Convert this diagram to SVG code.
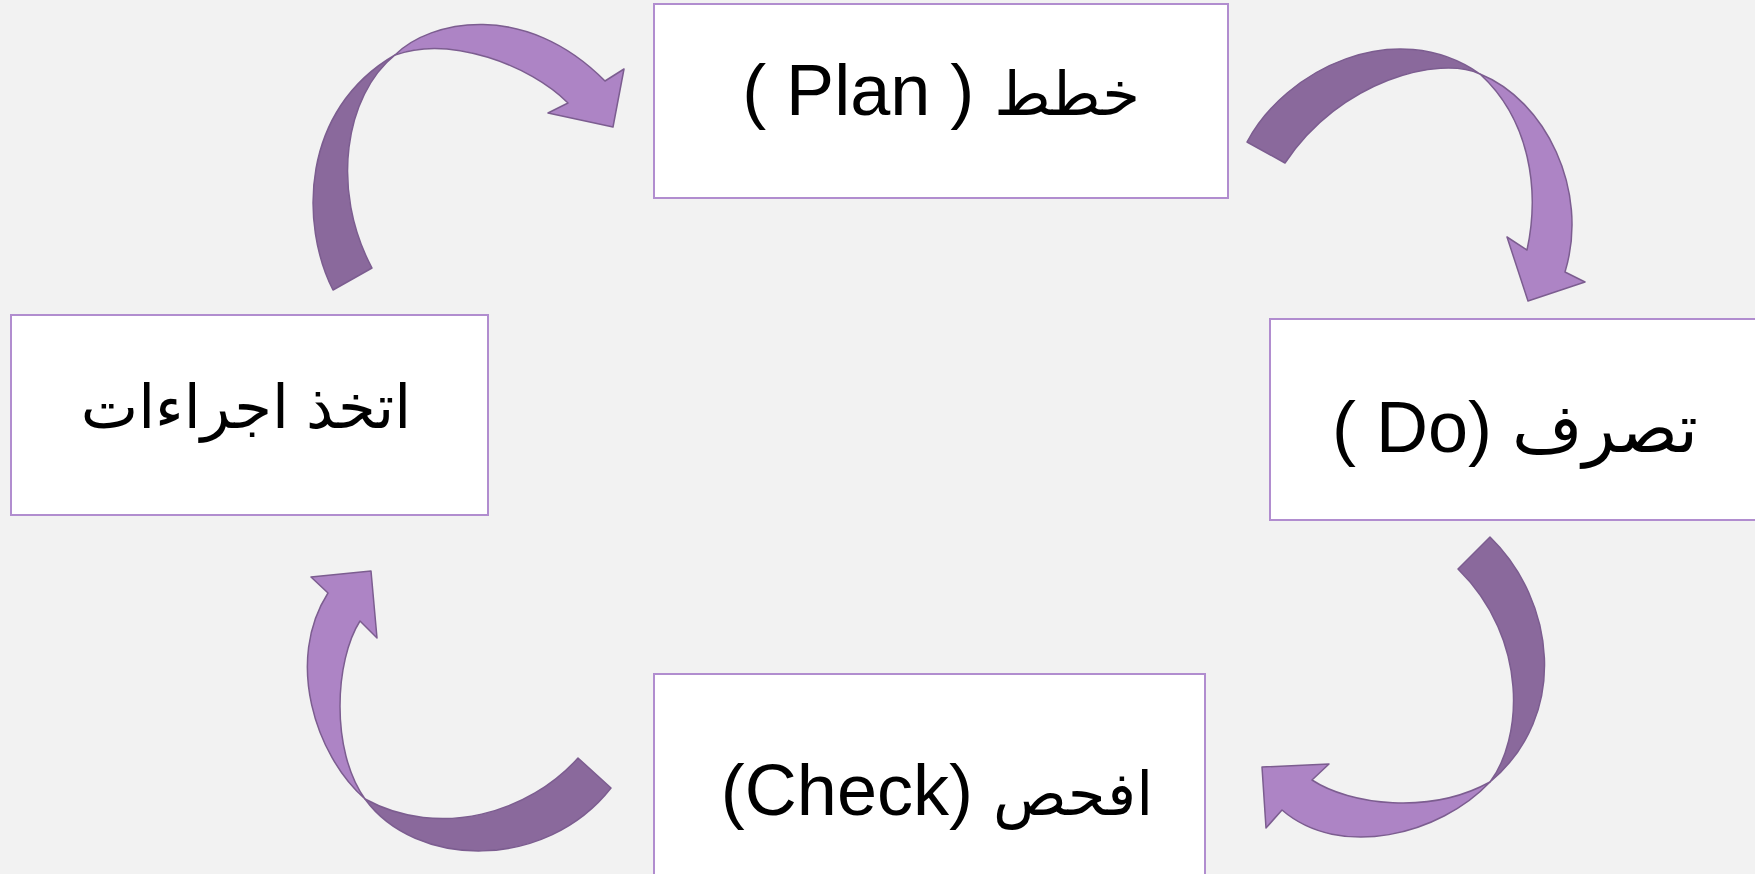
<svg xmlns="http://www.w3.org/2000/svg" width="1755" height="874" viewBox="0 0 1755 874">
<style>
.bg{fill:#F2F2F2}
.box{fill:#FFFFFF;stroke:#B18DCF;stroke-width:2}
.lbl{font-family:"Liberation Sans","DejaVu Sans",sans-serif;font-size:72px;fill:#000000;text-anchor:middle}
.ar{font-size:61px}
.dark{fill:#8A699C;stroke:#7C5D90;stroke-width:1.5;stroke-linejoin:round}
.light{fill:#AD84C5;stroke:#7C5D90;stroke-width:1.5;stroke-linejoin:round}
</style>
<rect class="bg" x="0" y="0" width="1755" height="874"/>
<g id="connectors">
  <g id="arrow-act-plan">
    <path class="dark" d="M333,290 C300,225 300,110 395,55 C345,95 330,190 372,268 Z"/>
    <path class="light" d="M395,55 C430,20 525,0 605,81 L624,69 L613,127 L548,113 L568,103 C530,65 450,35 395,55 Z"/>
  </g>
  <g id="arrow-plan-do">
    <path class="dark" d="M1247,142 C1285,70 1395,15 1480,74 C1440,55 1340,80 1285,163 Z"/>
    <path class="light" d="M1480,74 C1545,100 1590,190 1565,272 L1585,282 L1528,301 L1507,237 L1527,250 C1540,190 1530,120 1480,74 Z"/>
  </g>
  <g id="arrow-do-check">
    <path class="dark" d="M1490,537 C1555,600 1570,715 1490,782 C1522,740 1530,640 1458,569 Z"/>
    <path class="light" d="M1490,782 C1440,835 1340,860 1282,810 L1266,828 L1262,767 L1329,764 L1312,780 C1350,805 1430,815 1490,782 Z"/>
  </g>
  <g id="arrow-check-act">
    <path class="dark" d="M578,758 C530,812 440,840 365,799 C415,868 545,872 611,788 Z"/>
    <path class="light" d="M365,799 C315,755 285,660 328,593 L311,577 L371,571 L377,638 L360,621 C335,660 330,750 365,799 Z"/>
  </g>
</g>
<g id="node-plan">
  <rect class="box" x="654" y="4" width="574" height="194"/>
  <text class="lbl" x="941" y="115">( Plan ) <tspan class="ar">خطط</tspan></text>
</g>
<g id="node-do">
  <rect class="box" x="1270" y="319" width="495" height="201"/>
  <text class="lbl" x="1515" y="452">( Do) <tspan style="font-size:68px">تصرف</tspan></text>
</g>
<g id="node-check">
  <rect class="box" x="654" y="674" width="551" height="210"/>
  <text class="lbl" x="937" y="815">(Check) <tspan class="ar">افحص</tspan></text>
</g>
<g id="node-act">
  <rect class="box" x="11" y="315" width="477" height="200"/>
  <text class="lbl ar" x="246" y="428">اتخذ اجراءات</text>
</g>
</svg>
